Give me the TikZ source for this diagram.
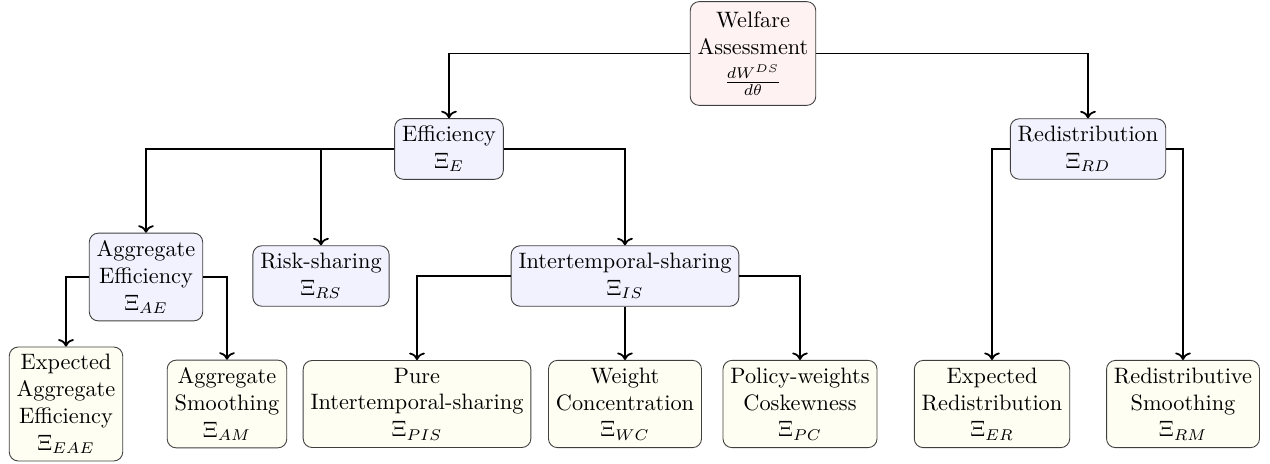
\documentclass[tikz,border=0pt]{standalone}
\usetikzlibrary{arrows.meta}
\tikzset{
  box/.style={draw=black!75, rounded corners=4pt, align=center, inner sep=3.33pt},
  rootbox/.style={box, fill=red!5, inner ysep=4.5pt},
  midbox/.style={box, fill=blue!5},
  leafbox/.style={box, fill=yellow!5},
  conn/.style={thick, ->}
}
\begin{document}
\begin{tikzpicture}[x=0.4484pt, y=-0.4484pt]
\useasboundingbox (0,0) rectangle (1270,463);
\node[rootbox] (W) at (753,53.5) {Welfare\\Assessment\\[3pt]$\frac{dW^{DS}}{d\theta}$};
\node[midbox] (E) at (449,149) {Efficiency\\$\Xi_E$};
\node[midbox] (RD) at (1088,149) {Redistribution\\$\Xi_{RD}$};
\node[midbox] (AE) at (146,277) {Aggregate\\Efficiency\\$\Xi_{AE}$};
\node[midbox] (RS) at (321,276) {Risk-sharing\\$\Xi_{RS}$};
\node[midbox] (IS) at (625,276) {Intertemporal-sharing\\$\Xi_{IS}$};
\node[leafbox] (EAE) at (66,404) {Expected\\Aggregate\\Efficiency\\$\Xi_{EAE}$};
\node[leafbox] (AM) at (227,404) {Aggregate\\Smoothing\\$\Xi_{AM}$};
\node[leafbox] (PIS) at (417,404) {Pure\\Intertemporal-sharing\\$\Xi_{PIS}$};
\node[leafbox] (WC) at (625,404) {Weight\\Concentration\\$\Xi_{WC}$};
\node[leafbox] (PC) at (800,404) {Policy-weights\\Coskewness\\$\Xi_{PC}$};
\node[leafbox] (ER) at (992,404) {Expected\\Redistribution\\$\Xi_{ER}$};
\node[leafbox] (RM) at (1183,404) {Redistributive\\Smoothing\\$\Xi_{RM}$};
\draw[conn] (W.west) -| (E.north);
\draw[conn] (W.east) -| (RD.north);
\draw[conn] (E.west) -| (AE.north);
\draw[conn] (E.west) -| (RS.north);
\draw[conn] (E.east) -| (IS.north);
\draw[conn] (AE.west) -| (EAE.north);
\draw[conn] (AE.east) -| (AM.north);
\draw[conn] (IS.west) -| (PIS.north);
\draw[conn] (IS.south) -- (WC.north);
\draw[conn] (IS.east) -| (PC.north);
\draw[conn] (RD.west) -| (ER.north);
\draw[conn] (RD.east) -| (RM.north);
\end{tikzpicture}
\end{document}
